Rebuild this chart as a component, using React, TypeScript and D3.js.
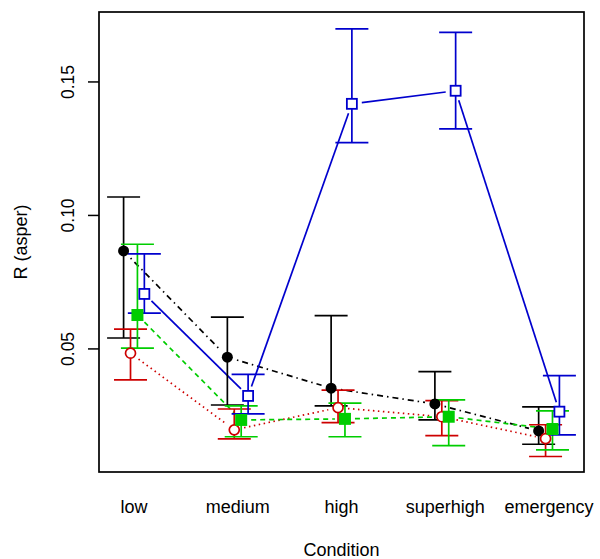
import React from 'react';
import * as d3 from 'd3';

const categories = ['low', 'medium', 'high', 'superhigh', 'emergency'];
const yTicks = [0.05, 0.1, 0.15];

const blackMean = [0.0867, 0.0469, 0.0353, 0.0294, 0.0193];
const blackUpper = [0.1069, 0.0619, 0.0625, 0.0415, 0.0283];
const blackLower = [0.0541, 0.029, 0.0287, 0.0234, 0.0143];

const redMean = [0.0484, 0.0197, 0.028, 0.0246, 0.0164];
const redUpper = [0.0574, 0.0275, 0.0346, 0.0306, 0.0216];
const redLower = [0.0384, 0.0163, 0.0224, 0.0175, 0.0097];

const greenMean = [0.0627, 0.0234, 0.0238, 0.0246, 0.02];
const greenUpper = [0.0892, 0.0287, 0.0297, 0.0309, 0.0268];
const greenLower = [0.0503, 0.0171, 0.0171, 0.0138, 0.0122];

const blueMean = [0.0706, 0.0324, 0.1418, 0.1467, 0.0265];
const blueUpper = [0.0856, 0.0405, 0.1699, 0.1686, 0.04];
const blueLower = [0.0634, 0.0257, 0.1273, 0.1324, 0.0178];

const W = 600;
const H = 559;
const L = 99, R = 584, T = 12, B = 472;
const FONT = '"Liberation Sans", Arial, Helvetica, sans-serif';

const series = [
  { key: 'black', color: '#000000', dash: '1.5 4 6 4', marker: 'dot', mean: blackMean, lo: blackLower, hi: blackUpper, off: -0.1 },
  { key: 'red', color: '#CD0000', dash: '1.5 3.5', marker: 'ocircle', mean: redMean, lo: redLower, hi: redUpper, off: -0.0333 },
  { key: 'green', color: '#00CD00', dash: '5 4', marker: 'square', mean: greenMean, lo: greenLower, hi: greenUpper, off: 0.0333 },
  { key: 'blue', color: '#0000CD', dash: null, marker: 'osquare', mean: blueMean, lo: blueLower, hi: blueUpper, off: 0.1 },
];

export default function App() {
  const x = d3.scaleLinear().domain([0.663, 5.337]).range([L, R]);
  const y = d3.scaleLinear().domain([0.0039, 0.1762]).range([B, T]);
  const gap = 10;
  const cap = 16.5;
  const line = d3.line<[number, number]>().x(d => d[0]).y(d => d[1]);

  return (
    <svg width={W} height={H} style={{ position: 'absolute', left: 0, top: 0, background: '#fff' }} fontFamily={FONT}>
      <rect x={0} y={0} width={W} height={H} fill="#fff" />
      {series.map(s => {
        const pts = s.mean.map((m, i) => [x(i + 1 + s.off), y(m)] as [number, number]);
        const segs = [];
        for (let i = 0; i < pts.length - 1; i++) {
          const [x1, y1] = pts[i];
          const [x2, y2] = pts[i + 1];
          const d = Math.hypot(x2 - x1, y2 - y1);
          if (d <= 2 * gap) continue;
          const ux = (x2 - x1) / d, uy = (y2 - y1) / d;
          segs.push(
            <path key={i} d={line([[x1 + ux * gap, y1 + uy * gap], [x2 - ux * gap, y2 - uy * gap]]) || ''}
              stroke={s.color} strokeWidth={1.7} fill="none" strokeDasharray={s.dash || undefined} />
          );
        }
        return <g key={'l' + s.key}>{segs}</g>;
      })}
      {series.map(s => (
        <g key={'e' + s.key} stroke={s.color} strokeWidth={1.7}>
          {s.mean.map((m, i) => {
            const cx = x(i + 1 + s.off);
            return (
              <g key={i}>
                <line x1={cx} x2={cx} y1={y(s.hi[i])} y2={y(s.lo[i])} />
                <line x1={cx - cap} x2={cx + cap} y1={y(s.hi[i])} y2={y(s.hi[i])} />
                <line x1={cx - cap} x2={cx + cap} y1={y(s.lo[i])} y2={y(s.lo[i])} />
              </g>
            );
          })}
        </g>
      ))}
      {series.map(s => (
        <g key={'p' + s.key}>
          {s.mean.map((m, i) => {
            const cx = x(i + 1 + s.off);
            const cy = y(m);
            if (s.marker === 'dot') return <circle key={i} cx={cx} cy={cy} r={5.5} fill={s.color} />;
            if (s.marker === 'ocircle') return <circle key={i} cx={cx} cy={cy} r={5} fill="#fff" stroke={s.color} strokeWidth={1.7} />;
            if (s.marker === 'square') return <rect key={i} x={cx - 6} y={cy - 6} width={12} height={12} fill={s.color} />;
            return <rect key={i} x={cx - 5} y={cy - 5} width={10} height={10} fill="#fff" stroke={s.color} strokeWidth={1.8} />;
          })}
        </g>
      ))}
      <rect x={L} y={T} width={R - L} height={B - T} fill="none" stroke="#000" strokeWidth={1.7} />
      {yTicks.map(t => (
        <g key={t}>
          <line x1={L - 11} x2={L} y1={y(t)} y2={y(t)} stroke="#000" strokeWidth={1.5} />
          <text x={74} y={y(t)} transform={`rotate(-90, 74, ${y(t)})`} textAnchor="middle" fontSize={17.5} fill="#000">
            {t.toFixed(2)}
          </text>
        </g>
      ))}
      {categories.map((c, i) => (
        <text key={c} x={x(i + 1)} y={513} textAnchor="middle" fontSize={18} fill="#000">{c}</text>
      ))}
      <text x={(L + R) / 2} y={556} textAnchor="middle" fontSize={18} fill="#000">Condition</text>
      <text x={27} y={(T + B) / 2} transform={`rotate(-90, 27, ${(T + B) / 2})`} textAnchor="middle" fontSize={18} fill="#000">R (asper)</text>
    </svg>
  );
}
